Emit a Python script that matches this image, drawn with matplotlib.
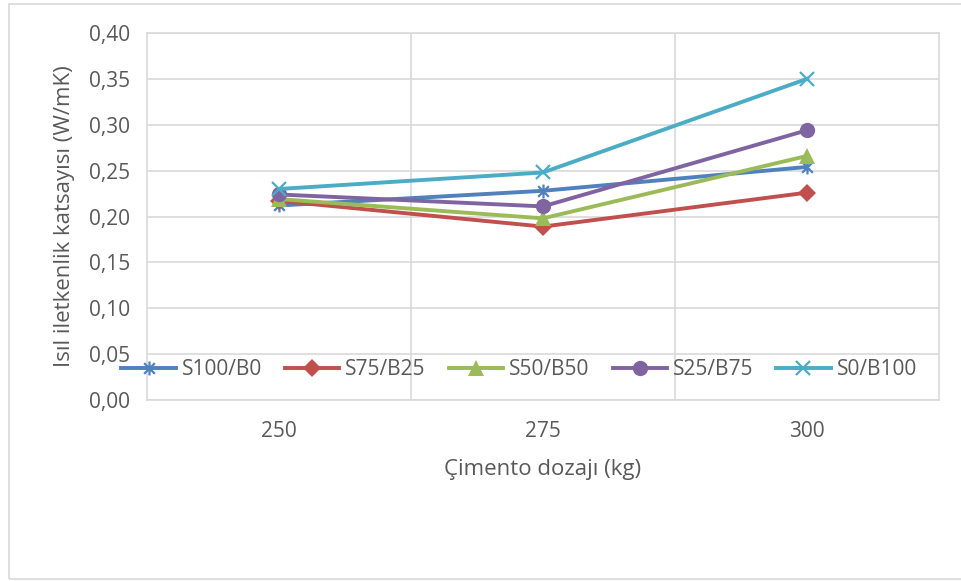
import matplotlib
matplotlib.use('Agg')
import matplotlib.pyplot as plt
from matplotlib.path import Path
from matplotlib.patches import Rectangle

dozaj = ['250', '275', '300']
s100_b0 = [0.212, 0.228, 0.254]
s75_b25 = [0.217, 0.189, 0.226]
s50_b50 = [0.219, 0.198, 0.266]
s25_b75 = [0.224, 0.211, 0.294]
s0_b100 = [0.230, 0.248, 0.350]
seriler = ['S100/B0', 'S75/B25', 'S50/B50', 'S25/B75', 'S0/B100']
y_ticks = [0.00, 0.05, 0.10, 0.15, 0.20, 0.25, 0.30, 0.35, 0.40]

plt.rcParams['font.family'] = ['Open Sans', 'DejaVu Sans']
text_color = '#595959'
grid_color = '#D9D9D9'

# yildiz isaretci: X + dikey cizgi
star = Path([(-1, -1), (1, 1), (-1, 1), (1, -1), (0, -1.3), (0, 1.3)],
            [Path.MOVETO, Path.LINETO, Path.MOVETO, Path.LINETO, Path.MOVETO, Path.LINETO])

fig = plt.figure(figsize=(9.61, 5.81), dpi=100)
fig.patches.append(Rectangle((9 / 961, 2 / 581), 1.0, 1 - 6 / 581, transform=fig.transFigure,
                             fill=False, edgecolor=grid_color, linewidth=1.2))
ax = fig.add_axes([147 / 961, 1 - 400 / 581, (939 - 147) / 961, (400 - 33) / 581])

x = [0.5, 1.5, 2.5]
styles = [
    (s100_b0, '#4F81BD', star, 10, 1.6),
    (s75_b25, '#C0504D', 'D', 9, 0),
    (s50_b50, '#9BBB59', '^', 11, 0),
    (s25_b75, '#8064A2', 'o', 11, 0),
    (s0_b100, '#4BACC6', 'x', 10, 1.6),
]
for (vals, c, m, ms, mew), name in zip(styles, seriler):
    if mew:
        ax.plot(x, vals, color=c, linewidth=2.8, marker=m, markersize=ms,
                markeredgewidth=mew, markeredgecolor=c, label=name, zorder=3)
    else:
        ax.plot(x, vals, color=c, linewidth=2.8, marker=m, markersize=ms,
                markeredgewidth=0, markerfacecolor=c, label=name, zorder=3)

ax.set_xlim(0, 3)
ax.set_ylim(0, 0.40)
ax.set_yticks(y_ticks)
ax.set_yticklabels([('%.2f' % v).replace('.', ',') for v in y_ticks])
ax.set_xticks(x)
ax.set_xticklabels(dozaj)
ax.set_xticks([1, 2], minor=True)
ax.grid(True, axis='y', color=grid_color, linewidth=1.2)
ax.grid(True, axis='x', which='minor', color=grid_color, linewidth=1.2)
ax.set_axisbelow(True)
for s in ax.spines.values():
    s.set_color(grid_color)
    s.set_linewidth(1.2)
ax.tick_params(axis='both', which='both', length=0, labelsize=15, colors=text_color)
ax.tick_params(axis='y', pad=12)
ax.tick_params(axis='x', pad=15)

ax.set_xlabel('Çimento dozajı (kg)', fontsize=16, color=text_color, labelpad=12)
ax.set_ylabel('Isıl iletkenlik katsayısı (W/mK)', fontsize=16, color=text_color, labelpad=10)

leg = ax.legend(loc='center', bbox_to_anchor=(0.47, 0.082), ncol=5, frameon=False,
                fontsize=15, handlelength=2.6, handletextpad=0.3, columnspacing=1.1,
                borderaxespad=0)
for t in leg.get_texts():
    t.set_color(text_color)

fig.savefig('out.png', dpi=100)
